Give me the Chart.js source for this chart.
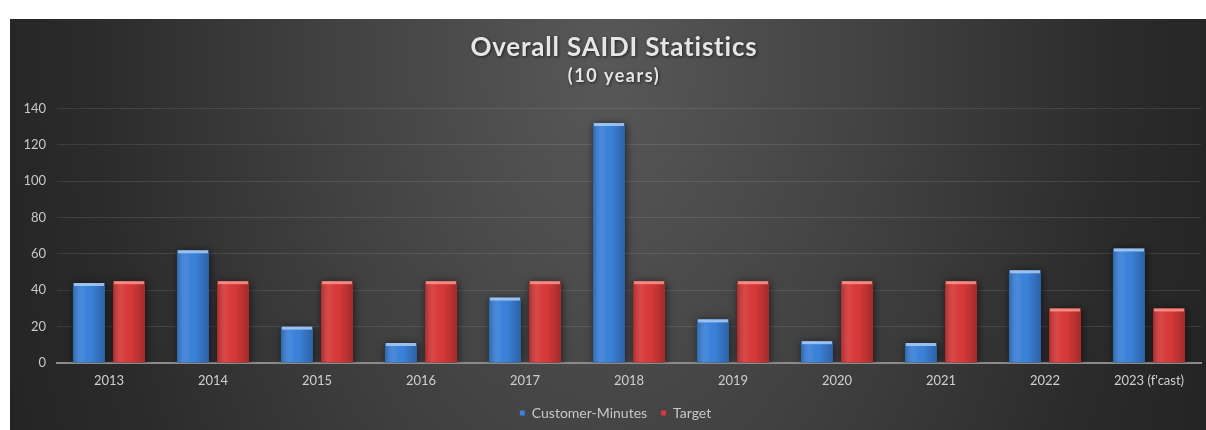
<!DOCTYPE html>
<html>
<head>
<meta charset="utf-8">
<title>Overall SAIDI Statistics</title>
<script src="https://cdn.jsdelivr.net/npm/chart.js@4.4.1/dist/chart.umd.min.js"></script>
<style>
  html, body { margin: 0; padding: 0; background: #ffffff; }
  #panel { position: absolute; left: 10px; top: 19px; width: 1196px; height: 411px; }
</style>
</head>
<body>
<div id="panel"><canvas id="saidi" width="1196" height="411"></canvas></div>
<script>
// Yearly SAIDI (customer-minutes) against the target
const years = ['2013', '2014', '2015', '2016', '2017', '2018', '2019', '2020', '2021', '2022', "2023 (f'cast)"];
const customerMinutes = [44, 62, 20, 11, 36, 132, 24, 12, 11, 51, 63];
const target = [45, 45, 45, 45, 45, 45, 45, 45, 45, 30, 30];
const yTickValues = [0, 20, 40, 60, 80, 100, 120, 140];
const titleText = 'Overall SAIDI Statistics';
const subtitleText = '(10 years)';

const FONT = 'Lato, "Open Sans", "DejaVu Sans", sans-serif';

// Dark panel with a soft light spot behind the title
const panelBackground = {
  id: 'panelBackground',
  beforeDraw(chart) {
    const { ctx, width, height } = chart;
    ctx.save();
    ctx.fillStyle = '#242424';
    ctx.fillRect(0, 0, width, height);
    const cx = 596, cy = 40, sy = 1.6;
    ctx.translate(cx, cy);
    ctx.scale(1, sy);
    const g = ctx.createRadialGradient(0, 0, 0, 0, 0, 640);
    g.addColorStop(0, '#585858');
    g.addColorStop(0.45, '#404040');
    g.addColorStop(0.8, '#2b2b2b');
    g.addColorStop(1, '#242424');
    ctx.fillStyle = g;
    ctx.fillRect(-cx, -cy / sy, width, height / sy);
    ctx.restore();
  }
};

// Spaced-out heading and sub-heading above the plot
const headings = {
  id: 'headings',
  afterDraw(chart) {
    const ctx = chart.ctx;
    const cx = 604;
    ctx.save();
    ctx.textAlign = 'center';
    ctx.textBaseline = 'middle';
    ctx.shadowColor = 'rgba(0,0,0,0.6)';
    ctx.shadowBlur = 3;
    ctx.shadowOffsetX = 1;
    ctx.shadowOffsetY = 1;
    ctx.fillStyle = '#e6e6e6';
    ctx.font = 'bold 26px ' + FONT;
    ctx.letterSpacing = '0.8px';
    ctx.fillText(titleText, cx, 29);
    ctx.font = 'bold 18px ' + FONT;
    ctx.letterSpacing = '1.5px';
    ctx.fillText(subtitleText, cx, 57);
    ctx.restore();
  }
};

// Nudge the legend a little to the right, under the middle of the plot
const legendOffset = {
  id: 'legendOffset',
  afterLayout(chart) {
    if (chart.legend) {
      chart.legend.left += 10;
      chart.legend.right += 10;
    }
  }
};

// Drop shadow under the bars, then a rounded-looking shade and a light top cap
const barShading = {
  id: 'barShading',
  beforeDatasetsDraw(chart) {
    const ctx = chart.ctx;
    ctx.save();
    ctx.shadowColor = 'rgba(0,0,0,0.6)';
    ctx.shadowBlur = 8;
    ctx.shadowOffsetX = 1;
    ctx.shadowOffsetY = 1;
  },
  afterDatasetsDraw(chart) {
    const ctx = chart.ctx;
    ctx.restore();
    ctx.save();
    chart.data.datasets.forEach((ds, di) => {
      const meta = chart.getDatasetMeta(di);
      const cap = ds.capColor;
      meta.data.forEach(bar => {
        const { x, y, base, width } = bar.getProps(['x', 'y', 'base', 'width'], true);
        const left = x - width / 2;
        const h = base - y;
        const g = ctx.createLinearGradient(left, 0, left + width, 0);
        g.addColorStop(0, 'rgba(0,0,0,0.22)');
        g.addColorStop(0.3, 'rgba(255,255,255,0.06)');
        g.addColorStop(0.55, 'rgba(0,0,0,0)');
        g.addColorStop(1, 'rgba(0,0,0,0.25)');
        ctx.fillStyle = g;
        ctx.fillRect(left, y, width, h);
        ctx.fillStyle = cap;
        ctx.fillRect(left + 1, y, width - 2, Math.min(3, h));
      });
    });
    ctx.restore();
  }
};

new Chart(document.getElementById('saidi'), {
  type: 'bar',
  data: {
    labels: years,
    datasets: [
      {
        label: 'Customer-Minutes',
        data: customerMinutes,
        backgroundColor: '#3c82da',
        capColor: 'rgba(170,205,245,0.85)',
        borderWidth: 0,
        categoryPercentage: 0.77,
        barPercentage: 0.8
      },
      {
        label: 'Target',
        data: target,
        backgroundColor: '#d9393a',
        capColor: 'rgba(250,150,140,0.85)',
        borderWidth: 0,
        categoryPercentage: 0.77,
        barPercentage: 0.8
      }
    ]
  },
  options: {
    responsive: false,
    animation: false,
    layout: { padding: { left: 0, right: 5, top: 89.5, bottom: 0 } },
    plugins: {
      title: { display: false },
      legend: {
        position: 'bottom',
        labels: {
          color: '#c8c8c8',
          font: { family: FONT, size: 14 },
          usePointStyle: true,
          pointStyle: 'rect',
          boxWidth: 5,
          boxHeight: 5,
          padding: 14
        }
      },
      tooltip: { enabled: false }
    },
    scales: {
      x: {
        grid: { display: false, drawTicks: false },
        border: { display: true, color: '#8c8c8c', width: 2 },
        ticks: {
          color: '#cfcfcf',
          font: { family: FONT, size: 13 },
          padding: 10,
          maxRotation: 0,
          autoSkip: false
        },
        afterFit(scale) { scale.height = 29; }
      },
      y: {
        min: 0,
        max: 140,
        grid: { color: 'rgba(255,255,255,0.10)', lineWidth: 1, drawTicks: false },
        border: { display: false },
        ticks: {
          color: '#c8c8c8',
          font: { family: FONT, size: 13 },
          padding: 11,
          stepSize: 20
        },
        afterBuildTicks(scale) { scale.ticks = yTickValues.map(v => ({ value: v })); },
        afterFit(scale) { scale.width = 47; }
      }
    }
  },
  plugins: [panelBackground, barShading, headings, legendOffset]
});
</script>
</body>
</html>
